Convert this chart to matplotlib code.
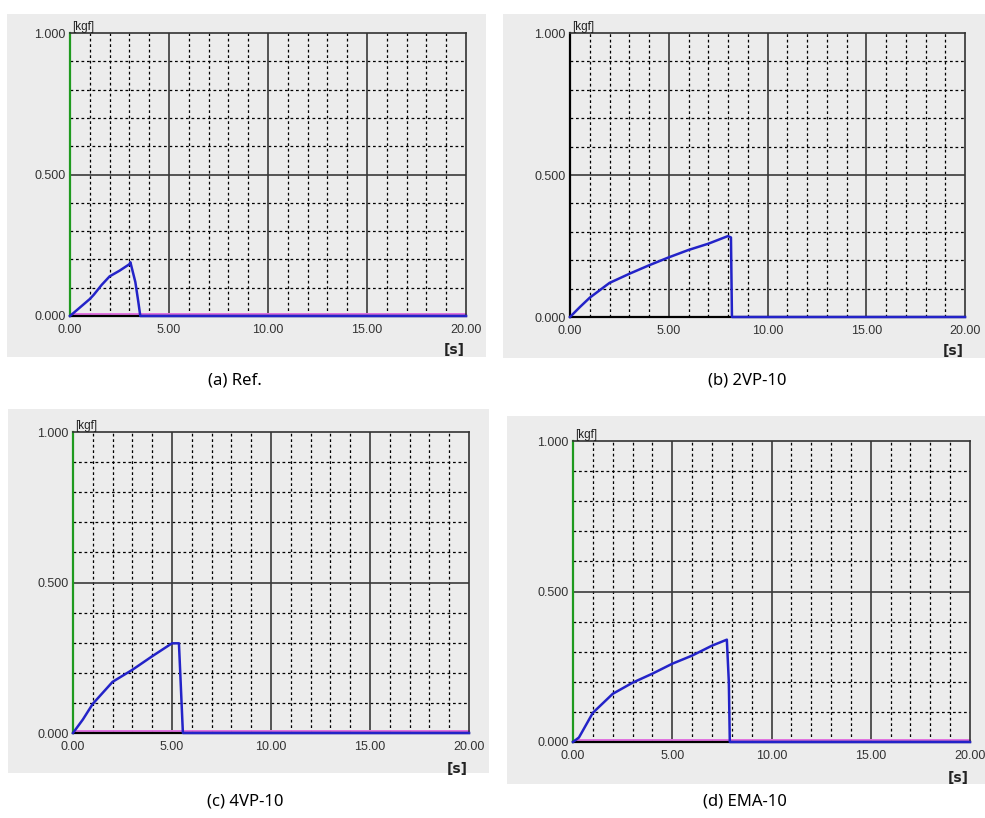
import matplotlib
matplotlib.use("Agg")
import matplotlib.pyplot as plt
from matplotlib.patches import Rectangle
import numpy as np

# data (time [s], force [kgf])
t_ref = [0, 0.5, 1.0, 1.2, 1.6, 2.0, 2.5, 3.0, 3.05, 3.3, 3.45, 3.55, 20]
f_ref = [0, 0.03, 0.06, 0.075, 0.11, 0.14, 0.16, 0.183, 0.19, 0.12, 0.05, 0, 0]

t_2vp = [0, 0.5, 1.0, 2.0, 3.0, 4.0, 5.0, 6.0, 7.0, 8.0, 8.15, 8.2, 20]
f_2vp = [0, 0.035, 0.068, 0.12, 0.152, 0.182, 0.21, 0.236, 0.258, 0.285, 0.28, 0, 0]

t_4vp = [0, 0.5, 1.0, 2.0, 3.0, 4.0, 5.0, 5.35, 5.45, 5.55, 20]
f_4vp = [0, 0.045, 0.097, 0.17, 0.21, 0.255, 0.298, 0.298, 0.15, 0, 0]

t_ema = [0, 0.3, 1.0, 2.0, 3.0, 4.0, 5.0, 6.0, 7.0, 7.75, 7.85, 7.9, 20]
f_ema = [0, 0.015, 0.097, 0.16, 0.197, 0.227, 0.26, 0.287, 0.32, 0.34, 0.2, 0, 0]

captions = ["(a) Ref.", "(b) 2VP-10", "(c) 4VP-10", "(d) EMA-10"]
x_ticks = [0, 5, 10, 15, 20]
y_ticks = [0, 0.5, 1.0]
pink_level = 0.008

W, H = 985, 818
fig = plt.figure(figsize=(W / 100, H / 100), dpi=100)
fig.patch.set_facecolor("white")
tick_font = ["Liberation Sans", "DejaVu Sans"]


def box(x0, y0, x1, y1):
    # pixel box (top-left origin) -> figure fraction rect
    return [x0 / W, 1 - y1 / H, (x1 - x0) / W, (y1 - y0) / H]


# (gray panel, plot area, caption position, left spine colour, pink line?)
panels = [
    ((7, 14, 486, 357), (70, 33, 466, 316), (235, 381), "#1f9a1f", True),
    ((503, 14, 985, 358), (570, 33, 965, 317), (747, 381), "black", False),
    ((8, 409, 489, 773), (73, 432, 469, 733), (245, 802), "#1f9a1f", True),
    ((507, 416, 985, 784), (573, 441, 970, 742), (745, 801), "#1f9a1f", True),
]
series = [(t_ref, f_ref), (t_2vp, f_2vp), (t_4vp, f_4vp), (t_ema, f_ema)]

for (gray, area, cap, lcol, pink), (t, f), label in zip(panels, series, captions):
    x0, y0, x1, y1 = gray
    fig.patches.append(Rectangle((x0 / W, 1 - y1 / H), (x1 - x0) / W, (y1 - y0) / H,
                                 transform=fig.transFigure, facecolor="#ececec",
                                 edgecolor="none", zorder=-10))
    ax = fig.add_axes(box(*area))
    ax.set_zorder(5)
    ax.set_facecolor("#ececec")
    ax.set_xlim(0, 20)
    ax.set_ylim(0, 1)

    # dashed minor grid
    for xv in np.arange(1, 20):
        if xv % 5:
            ax.axvline(xv, color="black", lw=0.9, ls=(0, (2.2, 2.2)), zorder=1)
    for yv in np.arange(0.1, 1.0, 0.1):
        if abs(yv - 0.5) > 1e-6:
            ax.axhline(yv, color="black", lw=0.9, ls=(0, (2.2, 2.2)), zorder=1)
    # solid major grid
    for xv in [5, 10, 15]:
        ax.axvline(xv, color="#3a3a3a", lw=1.2, zorder=1.5)
    ax.axhline(0.5, color="#3a3a3a", lw=1.2, zorder=1.5)

    if pink:
        ax.plot([0, 20], [pink_level, pink_level], color="#e070e0", lw=1.4,
                zorder=2, clip_on=False)
    ax.plot(t, f, color="#2323c8", lw=1.8, zorder=3, clip_on=False)

    for s in ["top", "right"]:
        ax.spines[s].set_color("#333333")
        ax.spines[s].set_linewidth(1.2)
    ax.spines["bottom"].set_color("black")
    ax.spines["bottom"].set_linewidth(1.6)
    ax.spines["left"].set_color(lcol)
    ax.spines["left"].set_linewidth(1.6)

    ax.set_xticks(x_ticks)
    ax.set_xticklabels(["%.2f" % v for v in x_ticks])
    ax.set_yticks(y_ticks)
    ax.set_yticklabels(["%.3f" % v for v in y_ticks])
    ax.tick_params(length=0, labelsize=9, labelcolor="#333333", pad=3)
    ax.tick_params(axis="x", pad=6)
    for lab in ax.get_xticklabels() + ax.get_yticklabels():
        lab.set_family(tick_font)

    ax.text(0.005, 1.0, "[kgf]", transform=ax.transAxes, fontsize=8.5,
            family=tick_font, color="#222222", ha="left", va="bottom")
    ax.text(0.97, -0.095, "[s]", transform=ax.transAxes, fontsize=10,
            color="#222222", ha="center", va="top", fontweight="bold")

    fig.text(cap[0] / W, 1 - cap[1] / H, label, fontsize=12,
             family=["Noto Sans", "DejaVu Sans"], ha="center", va="center")

fig.savefig("out.png", dpi=100)
